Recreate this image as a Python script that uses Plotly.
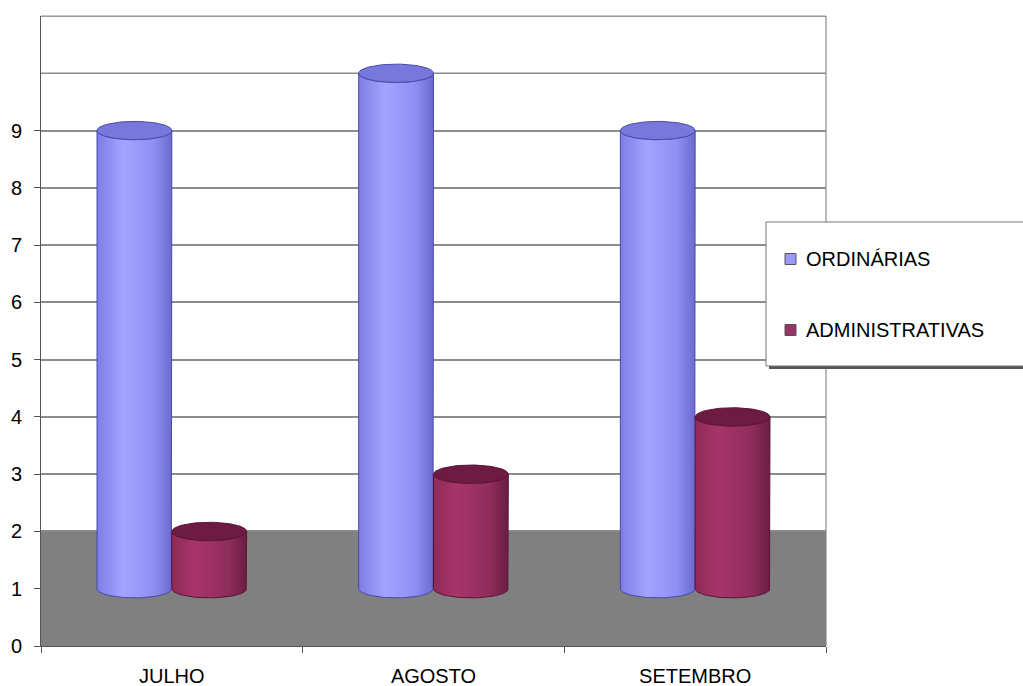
import numpy as np
import plotly.graph_objects as go

# ---- data ----
categories = ["JULHO", "AGOSTO", "SETEMBRO"]
ordinarias = [9, 10, 9]
administrativas = [2, 3, 4]
series_names = ["ORDINÁRIAS", "ADMINISTRATIVAS"]
y_tick_labels = ["0", "1", "2", "3", "4", "5", "6", "7", "8", "9"]

# ---- style ----
FLOOR_TOP = 2          # top of the grey floor
BASE = 1               # visual base of the cylinders
BAR_W = 0.286          # width of one cylinder in category units
RY = 0.16              # vertical half-height of ellipses (y units)
FONT = "Liberation Sans, Arial, sans-serif"

styles = [
    dict(scale=[[0, "#7d7de6"], [0.35, "#a3a3ff"], [0.75, "#9090f4"], [1, "#6b6bcf"]],
         top="#7878dc", line="#4a4aa8"),
    dict(scale=[[0, "#8e2a58"], [0.3, "#a8346a"], [0.75, "#8f2d5c"], [1, "#6a1d42"]],
         top="#6e1b43", line="#5a1535"),
]

fig = go.Figure()

t_half = np.linspace(np.pi, 2 * np.pi, 40)
t_full = np.linspace(0, 2 * np.pi, 80)


def cylinder(x0, x1, y0, y1, st):
    cx, rx = (x0 + x1) / 2, (x1 - x0) / 2
    # body: left side up, front half of top ellipse, right side down, front half of bottom
    xs = [x0, x0]
    ys = [y0, y1]
    xs += list(cx + rx * np.cos(t_half))
    ys += list(y1 + RY * np.sin(t_half))
    xs += [x1, x1]
    ys += [y1, y0]
    xs += list(cx + rx * np.cos(t_half[::-1]))
    ys += list(y0 + RY * np.sin(t_half[::-1]))
    fig.add_trace(go.Scatter(
        x=xs, y=ys, mode="lines", fill="toself",
        fillgradient=dict(type="horizontal", colorscale=st["scale"]),
        line=dict(color=st["line"], width=1), showlegend=False, hoverinfo="skip"))
    # top ellipse
    fig.add_trace(go.Scatter(
        x=list(cx + rx * np.cos(t_full)), y=list(y1 + RY * np.sin(t_full)),
        mode="lines", fill="toself", fillcolor=st["top"],
        line=dict(color=st["line"], width=1), showlegend=False, hoverinfo="skip"))


for i, cat in enumerate(categories):
    c = i + 0.5
    cylinder(c - BAR_W, c, BASE, ordinarias[i], styles[0])
    cylinder(c, c + BAR_W, BASE, administrativas[i], styles[1])

shapes = []
# grey floor
shapes.append(dict(type="rect", xref="x", yref="y", x0=0, x1=len(categories),
                   y0=0, y1=FLOOR_TOP, fillcolor="#808080", line=dict(width=0),
                   layer="between"))
# gridlines above the labelled ticks
for g in [10, 11]:
    shapes.append(dict(type="line", xref="paper", yref="y", x0=0, x1=1, y0=g, y1=g,
                       line=dict(color="#8c8c8c", width=1.5), layer="below"))
# right border
shapes.append(dict(type="line", xref="paper", yref="paper", x0=1, x1=1, y0=0, y1=1,
                   line=dict(color="#8c8c8c", width=1.2), layer="below"))

# ---- legend drawn by hand (box partly cut off at the right like the reference) ----
L, T = 41, 16
PW, PH = 785, 630


def px(x):
    return (x - L) / PW


def py(y):
    return (T + PH - y) / PH


shapes.append(dict(type="rect", xref="paper", yref="paper", x0=px(769), x1=px(1040),
                   y0=py(369), y1=py(225), fillcolor="#555555", line=dict(width=0)))
shapes.append(dict(type="rect", xref="paper", yref="paper", x0=px(766), x1=px(1040),
                   y0=py(366), y1=py(222), fillcolor="white",
                   line=dict(color="#777777", width=1)))
legend_y = [259, 330]
for k, name in enumerate(series_names):
    col = ["#9999ff", "#993366"][k]
    shapes.append(dict(type="rect", xref="paper", yref="paper", x0=px(785), x1=px(796),
                       y0=py(legend_y[k] + 5.5), y1=py(legend_y[k] - 5.5), fillcolor=col,
                       line=dict(color="#555555", width=1)))
    fig.add_annotation(x=px(804), y=py(legend_y[k]), xref="paper", yref="paper",
                       text=name, showarrow=False, xanchor="left", yanchor="middle",
                       font=dict(family=FONT, size=20, color="#000000"))

fig.update_layout(
    width=1023, height=686,
    margin=dict(l=L, r=1023 - 826, t=T, b=686 - T - PH, autoexpand=False),
    paper_bgcolor="white", plot_bgcolor="white",
    showlegend=False, shapes=shapes,
    font=dict(family=FONT, size=19, color="#000000"),
)
fig.update_xaxes(
    range=[0, len(categories)], tickvals=[i + 0.5 for i in range(len(categories))],
    ticktext=categories, ticks="", showgrid=False, zeroline=False,
    showline=True, linecolor="#555555", linewidth=1, ticklabelstandoff=12,
    tickfont=dict(size=20),
    minor=dict(ticks="outside", tick0=0, dtick=1, ticklen=6, tickcolor="#555555",
               showgrid=False),
)
fig.update_yaxes(
    range=[0, 11], tickvals=list(range(len(y_tick_labels))), ticktext=y_tick_labels,
    ticks="outside", ticklen=6, tickcolor="#555555", showgrid=True,
    gridcolor="#8c8c8c", gridwidth=1.5, zeroline=False, showline=True,
    linecolor="#555555", linewidth=1, ticklabelstandoff=8,
    tickfont=dict(size=20), mirror=False,
)
# top border
fig.add_shape(type="line", xref="paper", yref="paper", x0=0, x1=1, y0=1, y1=1,
              line=dict(color="#8c8c8c", width=1.2), layer="below")

fig.write_html("out.html")
